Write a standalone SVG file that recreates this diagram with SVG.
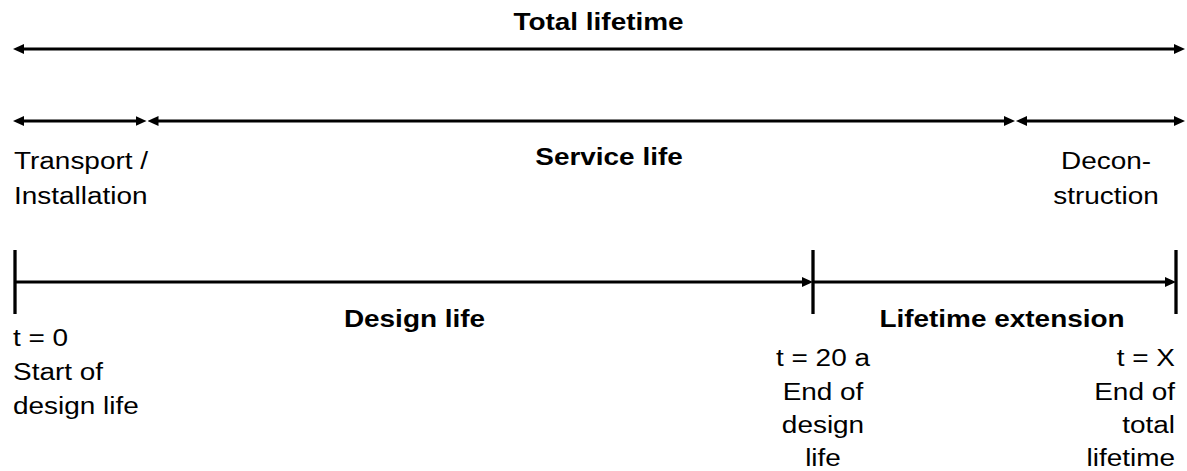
<svg xmlns="http://www.w3.org/2000/svg" width="1187" height="471" viewBox="0 0 1187 471">
<style>
text{font-family:"Liberation Sans",Arial,sans-serif;font-size:24.3px;fill:#000}
.b{font-weight:bold}
.m{text-anchor:middle}
.e{text-anchor:end}
.ln{stroke:#000;stroke-width:3;fill:none}
.tk{stroke:#000;stroke-width:3.3;fill:none}
</style>
<defs>
<marker id="ah" viewBox="0 0 11 10" markerWidth="11" markerHeight="10" markerUnits="userSpaceOnUse" refX="1" refY="5" orient="auto-start-reverse">
<path d="M0,0 L11,5 L0,10 z" fill="#000"/>
</marker>
</defs>
<rect width="1187" height="471" fill="#fff"/>
<g id="connectors">
<line class="ln" x1="23" y1="49" x2="1175" y2="49" marker-start="url(#ah)" marker-end="url(#ah)"/>
<line class="ln" x1="23" y1="121" x2="136.5" y2="121" marker-start="url(#ah)" marker-end="url(#ah)"/>
<line class="ln" x1="157.5" y1="121" x2="1005" y2="121" marker-start="url(#ah)" marker-end="url(#ah)"/>
<line class="ln" x1="1026" y1="121" x2="1175" y2="121" marker-start="url(#ah)" marker-end="url(#ah)"/>
<line class="ln" x1="15" y1="282" x2="803" y2="282" marker-end="url(#ah)"/>
<line class="ln" x1="813" y1="282" x2="1166" y2="282" marker-end="url(#ah)"/>
<line class="tk" x1="15" y1="250" x2="15" y2="314"/>
<line class="tk" x1="813" y1="250" x2="813" y2="314"/>
<line class="tk" x1="1176" y1="250" x2="1176" y2="314"/>
</g>
<g id="total-lifetime"><text class="b m" transform="translate(598.5,29.5) scale(1.15,1)">Total lifetime</text></g>
<g id="transport"><text transform="translate(14,169) scale(1.15,1)">Transport /</text><text transform="translate(14,204) scale(1.15,1)">Installation</text></g>
<g id="service-life"><text class="b m" transform="translate(609,165) scale(1.15,1)">Service life</text></g>
<g id="deconstruction"><text class="m" transform="translate(1106,169) scale(1.15,1)">Decon-</text><text class="m" transform="translate(1106,204) scale(1.15,1)">struction</text></g>
<g id="design-life"><text class="b m" transform="translate(414.5,327) scale(1.15,1)">Design life</text></g>
<g id="lifetime-extension"><text class="b m" transform="translate(1002,327) scale(1.15,1)">Lifetime extension</text></g>
<g id="t0"><text transform="translate(13,346) scale(1.15,1)">t = 0</text><text transform="translate(13,380) scale(1.15,1)">Start of</text><text transform="translate(13,414) scale(1.15,1)">design life</text></g>
<g id="t20"><text class="m" transform="translate(823,366) scale(1.15,1)">t = 20 a</text><text class="m" transform="translate(823,400) scale(1.15,1)">End of</text><text class="m" transform="translate(823,433) scale(1.15,1)">design</text><text class="m" transform="translate(823,466) scale(1.15,1)">life</text></g>
<g id="tX"><text class="e" transform="translate(1175,366) scale(1.15,1)">t = X</text><text class="e" transform="translate(1175,400) scale(1.15,1)">End of</text><text class="e" transform="translate(1175,433) scale(1.15,1)">total</text><text class="e" transform="translate(1175,466) scale(1.15,1)">lifetime</text></g>
</svg>
